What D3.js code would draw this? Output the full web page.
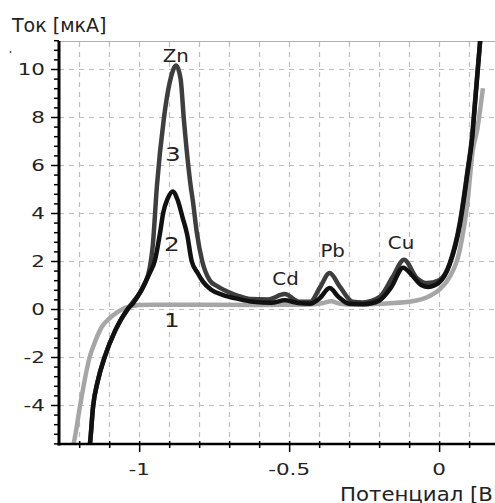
<!DOCTYPE html>
<html><head><meta charset="utf-8">
<script src="https://cdn.jsdelivr.net/npm/d3@7"></script>
<style>body{margin:0;background:#fff}svg{display:block}</style>
</head><body>
<svg id="c" width="495" height="503"></svg>
<script>
// Data (potential V, current µA)
const curve1V = [-1.226,-1.215,-1.198,-1.165,-1.145,-1.125,-1.1,-1.075,-1.05,-1.02,-1.0,-0.95,-0.8,-0.6,-0.45,-0.39,-0.36,-0.33,-0.28,-0.2,-0.1,-0.03,0.0,0.035,0.069,0.095,0.112,0.126,0.146];
const curve1I = [-6.0,-5.4,-4.1,-2.0,-1.3,-0.75,-0.4,-0.15,0.03,0.13,0.17,0.18,0.18,0.17,0.18,0.24,0.32,0.22,0.18,0.22,0.3,0.55,0.8,1.33,2.46,4.5,6.6,7.4,9.2];

const curve2V = [-1.17,-1.164,-1.154,-1.138,-1.115,-1.08,-1.038,-1.02,-0.988,-0.965,-0.948,-0.93,-0.92,-0.905,-0.888,-0.872,-0.855,-0.84,-0.825,-0.805,-0.788,-0.76,-0.72,-0.67,-0.62,-0.56,-0.515,-0.47,-0.43,-0.398,-0.365,-0.335,-0.3,-0.25,-0.2,-0.16,-0.12,-0.09,-0.06,-0.035,0.0,0.035,0.069,0.095,0.11,0.12,0.137,0.15];
const curve2I = [-6.0,-5.6,-4.1,-3.0,-2.0,-0.9,0.0,0.25,0.9,1.5,2.0,3.2,4.0,4.6,4.9,4.55,3.8,3.1,2.0,1.5,1.15,0.8,0.58,0.42,0.3,0.26,0.36,0.25,0.22,0.45,0.87,0.5,0.22,0.2,0.35,0.9,1.72,1.4,1.0,0.92,1.1,1.85,3.5,5.7,7.1,8.6,11.2,13.0];

const curve3V = [-1.17,-1.164,-1.154,-1.138,-1.115,-1.08,-1.038,-1.02,-0.985,-0.965,-0.955,-0.941,-0.918,-0.893,-0.877,-0.862,-0.851,-0.828,-0.821,-0.808,-0.79,-0.765,-0.74,-0.71,-0.67,-0.63,-0.57,-0.515,-0.465,-0.43,-0.398,-0.365,-0.331,-0.288,-0.254,-0.198,-0.155,-0.117,-0.075,-0.04,0.0,0.035,0.069,0.095,0.11,0.12,0.137,0.15];
const curve3I = [-6.0,-5.6,-4.1,-3.0,-2.0,-0.9,0.0,0.3,0.95,1.7,2.6,5.1,7.9,9.7,10.15,9.6,7.9,5.1,4.5,3.2,2.0,1.2,0.95,0.75,0.55,0.42,0.4,0.62,0.3,0.3,0.88,1.5,0.93,0.3,0.27,0.5,1.33,2.05,1.3,1.08,1.2,1.9,3.6,5.8,7.2,8.7,11.2,13.0];

const yMajorTicks = [-4,-2,0,2,4,6,8,10];
const xMajorTicks = [-1,-0.5,0];
const xTickLabels = ["-1","-0.5","0"];
const yTickLabels = ["-4","-2","0","2","4","6","8","10"];
const peakLabels = ["Zn","Cd","Pb","Cu"];
const peakV = [-0.878,-0.512,-0.355,-0.127];
const peakI = [10.3,0.98,2.15,2.5];
const curveLabels = ["3","2","1"];
const curveLabelV = [-0.888,-0.891,-0.891];
const curveLabelI = [6.15,2.4,-0.75];

const svg = d3.select("#c");
const x = d3.scaleLinear().domain([-1.2673,0.1863]).range([59,495]);
const y = d3.scaleLinear().domain([-5.625,11.167]).range([444,41]);

// grid
const gridX = d3.range(-12,2).map(d=>d/10);
svg.append("g").selectAll("line").data(gridX).join("line")
  .attr("x1",d=>Math.round(x(d))+0.5).attr("x2",d=>Math.round(x(d))+0.5).attr("y1",42).attr("y2",444)
  .attr("stroke","#bdbdbd").attr("stroke-width",1.2).attr("stroke-dasharray","5,5");
svg.append("g").selectAll("line").data(yMajorTicks).join("line")
  .attr("x1",59).attr("x2",495).attr("y1",d=>Math.round(y(d))+0.5).attr("y2",d=>Math.round(y(d))+0.5)
  .attr("stroke","#bdbdbd").attr("stroke-width",1.2).attr("stroke-dasharray","5,5");
// top border
svg.append("line").attr("x1",59).attr("x2",495).attr("y1",41.5).attr("y2",41.5).attr("stroke","#b0b0b0");

svg.append("defs").append("clipPath").attr("id","clip").append("rect")
  .attr("x",59).attr("y",41).attr("width",436).attr("height",403);

const line = d3.line().x(d=>x(d[0])).y(d=>y(d[1])).curve(d3.curveMonotoneX);
const plot = svg.append("g").attr("clip-path","url(#clip)");
function draw(V,I,color){
  plot.append("path").datum(V.map((v,i)=>[v,I[i]])).attr("d",line)
    .attr("fill","none").attr("stroke",color).attr("stroke-width",4.5).attr("stroke-linejoin","round");
}
draw(curve1V,curve1I,"#a6a6a6");
draw(curve3V,curve3I,"#3e3e3e");
draw(curve2V,curve2I,"#111111");

// axes
const yMinor = d3.range(-14,29).map(d=>d*0.4).filter(d=>Math.abs(d/2-Math.round(d/2))>0.01);
svg.append("g").attr("transform","translate(59,0)")
  .call(d3.axisLeft(y).tickValues(yMinor).tickSize(5).tickSizeOuter(0).tickFormat(""))
  .call(g=>g.select(".domain").remove()).selectAll("line").attr("stroke-width",1.5);
svg.append("g").attr("transform","translate(59,0)")
  .call(d3.axisLeft(y).tickValues(yMajorTicks).tickSize(8).tickSizeOuter(0).tickFormat(""))
  .call(g=>g.select(".domain").remove()).selectAll("line").attr("stroke-width",1.5);
const xMinor = d3.range(-12,2).map(d=>d/10).filter(d=>Math.abs(d*2-Math.round(d*2))>0.01);
svg.append("g").attr("transform","translate(0,441)")
  .call(d3.axisBottom(x).tickValues(xMinor).tickSize(7).tickSizeOuter(0).tickFormat(""))
  .call(g=>g.select(".domain").remove()).selectAll("line").attr("stroke-width",1.5);
svg.append("g").attr("transform","translate(0,441)")
  .call(d3.axisBottom(x).tickValues(xMajorTicks).tickSize(11).tickSizeOuter(0).tickFormat(""))
  .call(g=>g.select(".domain").remove()).selectAll("line").attr("stroke-width",1.5);
svg.append("line").attr("x1",59).attr("x2",59).attr("y1",41).attr("y2",445.5).attr("stroke","#000").attr("stroke-width",3);
svg.append("line").attr("x1",57.5).attr("x2",495).attr("y1",444).attr("y2",444).attr("stroke","#000").attr("stroke-width",2.5);

const font = "'DejaVu Sans', sans-serif";
// tick labels
svg.append("g").selectAll("text").data(yMajorTicks).join("text")
  .attr("transform",d=>`translate(45,${y(d)+6}) scale(1.3,1)`)
  .attr("text-anchor","end").attr("font-family",font).attr("font-size",16.5).attr("fill","#222")
  .text((d,i)=>yTickLabels[i]);
svg.append("g").selectAll("text").data(xMajorTicks).join("text")
  .attr("transform",d=>`translate(${x(d)},475) scale(1.3,1)`)
  .attr("text-anchor","middle").attr("font-family",font).attr("font-size",16.5).attr("fill","#222")
  .text((d,i)=>xTickLabels[i]);

// axis titles
svg.append("text").attr("x",12).attr("y",32).attr("font-family",font).attr("font-size",19).attr("fill","#222").text("Ток [мкА]");
svg.append("text").attr("transform","translate(340,501) scale(1.12,1)").attr("font-family",font).attr("font-size",19).attr("fill","#222").text("Потенциал [В]");
svg.append("circle").attr("cx",10.5).attr("cy",52).attr("r",0.9).attr("fill","#444");

// peak labels
svg.append("g").selectAll("text").data(peakLabels).join("text")
  .attr("transform",(d,i)=>`translate(${x(peakV[i])},${y(peakI[i])}) scale(1.1,1)`)
  .attr("text-anchor","middle").attr("font-family",font).attr("font-size",18).attr("fill","#222")
  .text(d=>d);
svg.append("g").selectAll("text").data(curveLabels).join("text")
  .attr("transform",(d,i)=>`translate(${x(curveLabelV[i])},${y(curveLabelI[i])}) scale(1.3,1)`)
  .attr("text-anchor","middle").attr("font-family",font).attr("font-size",19).attr("fill","#222")
  .text(d=>d);
</script>
</body></html>
